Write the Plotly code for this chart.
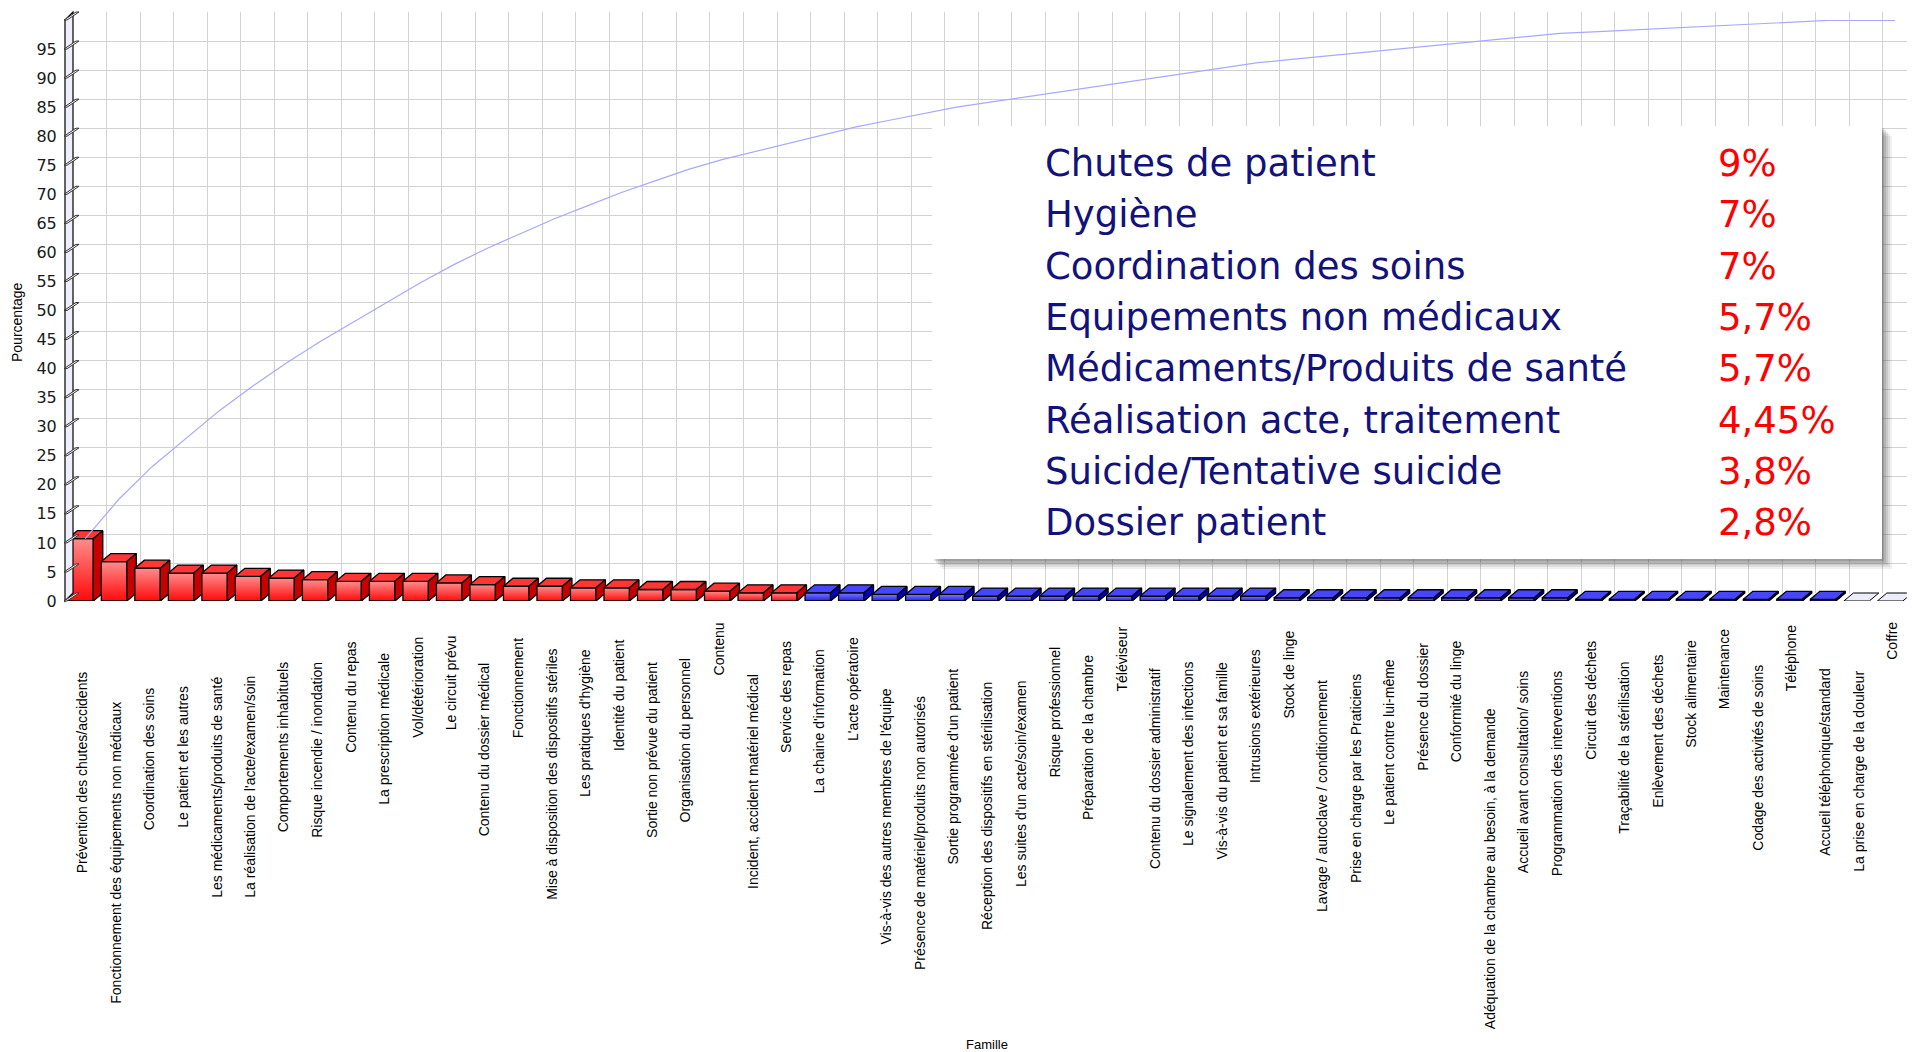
import numpy as np
import plotly.graph_objects as go

# ---------------- DATA ----------------
categories = [
    "Prévention des chutes/accidents",
    "Fonctionnement des équipements non médicaux",
    "Coordination des soins",
    "Le patient et les autres",
    "Les médicaments/produits de santé",
    "La réalisation de l'acte/examen/soin",
    "Comportements inhabituels",
    "Risque incendie / inondation",
    "Contenu du repas",
    "La prescription médicale",
    "Vol/détérioration",
    "Le circuit prévu",
    "Contenu du dossier médical",
    "Fonctionnement",
    "Mise à disposition des dispositifs stériles",
    "Les pratiques d'hygiène",
    "Identité du patient",
    "Sortie non prévue du patient",
    "Organisation du personnel",
    "Contenu",
    "Incident, accident matériel médical",
    "Service des repas",
    "La chaine d'information",
    "L'acte opératoire",
    "Vis-à-vis des autres membres de l'équipe",
    "Présence de matériel/produits non autorisés",
    "Sortie programmée d'un patient",
    "Réception des dispositifs en stérilisation",
    "Les suites d'un acte/soin/examen",
    "Risque professionnel",
    "Préparation de la chambre",
    "Téléviseur",
    "Contenu du dossier administratif",
    "Le signalement des infections",
    "Vis-à-vis du patient et sa famille",
    "Intrusions extérieures",
    "Stock de linge",
    "Lavage / autoclave / conditionnement",
    "Prise en charge par les Praticiens",
    "Le patient contre lui-même",
    "Présence du dossier",
    "Conformité du linge",
    "Adéquation de la chambre au besoin, à la demande",
    "Accueil avant consultation/ soins",
    "Programmation des interventions",
    "Circuit des déchets",
    "Traçabilité de la stérilisation",
    "Enlèvement des déchets",
    "Stock alimentaire",
    "Maintenance",
    "Codage des activités de soins",
    "Téléphone",
    "Accueil téléphonique/standard",
    "La prise en charge de la douleur",
    "Coffre",
]

# percentage per family
values = [
    10.73, 6.78, 5.65, 4.80, 4.80, 4.24, 3.95, 3.67, 3.39, 3.39,
    3.39, 3.11, 2.82, 2.54, 2.54, 2.26, 2.26, 1.98, 1.98, 1.69,
    1.41, 1.41, 1.41, 1.41, 1.13, 1.13, 1.13, 0.85, 0.85, 0.85,
    0.85, 0.85, 0.85, 0.85, 0.85, 0.85, 0.56, 0.56, 0.56, 0.56,
    0.56, 0.56, 0.56, 0.56, 0.56, 0.28, 0.28, 0.28, 0.28, 0.28,
    0.28, 0.28, 0.28, 0.00, 0.00,
]

# colour class of each bar
classes = ["rouge"] * 22 + ["bleu"] * 31 + ["vide"] * 2

y_ticks = list(range(0, 100, 5))

box_labels = [
    "Chutes de patient",
    "Hygiène",
    "Coordination des soins",
    "Equipements non médicaux",
    "Médicaments/Produits de santé",
    "Réalisation acte, traitement",
    "Suicide/Tentative suicide",
    "Dossier patient",
]
box_values = ["9%", "7%", "7%", "5,7%", "5,7%", "4,45%", "3,8%", "2,8%"]

# ---------------- STYLE / GEOMETRY ----------------
W, H = 1915, 1052
OFF = 8            # page body margin of the html page
X0 = 63.8          # px of x = -0.5 (front plane)
CAT = 33.51        # px per category
Y0 = 601.0         # px of y = 0 (front plane)
YT = 20.0          # px of y = 100 (front plane)
PXU = (Y0 - YT) / 100.0
DXP, DYP = 9.5, 8.0  # 3D depth in px
BAR_W = 0.76

dx = DXP / CAT
dy = DYP / PXU
N = len(categories)

# label top position below the floor (px) - staggered like the original
label_top = [
    669, 700, 686, 684, 675, 674, 660, 660, 640, 651,
    635, 633, 660, 635, 647, 647, 638, 660, 656, 620,
    672, 639, 647, 635, 686, 694, 666, 680, 678, 645,
    653, 625, 666, 660, 660, 647, 629, 678, 672, 657,
    641, 638, 706, 669, 669, 639, 660, 653, 638, 627,
    663, 623, 666, 669, 620,
]

def fx(px):
    return (px - OFF) / W

def fy(py):
    return 1 - (py - OFF) / H

palette = {
    "rouge": dict(top="#ff3636", side="#c80000", grad=[[0, "#ff0a0a"], [1, "#ff8c8c"]]),
    "bleu": dict(top="#4646ff", side="#0000c0", grad=[[0, "#2020e8"], [1, "#7a7aff"]]),
}

fig = go.Figure()

# back-wall grid subplot (x / y)
x_back_right = -0.5 + (W + OFF - X0 - DXP) / CAT
fig.add_trace(go.Scatter(x=[None], y=[None], xaxis="x", yaxis="y", showlegend=False, hoverinfo="skip"))

# floor tiles for every category (lavender)
xs, ys = [], []
for i in range(N):
    l, r = i - BAR_W / 2, i + BAR_W / 2
    xs += [l, r, r + dx, l + dx, l, None]
    ys += [0, 0, dy, dy, 0, None]
fig.add_trace(go.Scatter(x=xs, y=ys, xaxis="x2", yaxis="y2", mode="lines", fill="toself",
                         fillcolor="#ececfb", line=dict(color="#000000", width=1),
                         showlegend=False, hoverinfo="skip"))

# 3D bars
for i, (v, c) in enumerate(zip(values, classes)):
    if c not in palette or v <= 0:
        continue
    p = palette[c]
    l, r = i - BAR_W / 2, i + BAR_W / 2
    fig.add_trace(go.Scatter(x=[l, r, r, l, l], y=[0, 0, v, v, 0], xaxis="x2", yaxis="y2",
                             mode="lines", fill="toself",
                             fillgradient=dict(type="vertical", colorscale=p["grad"]),
                             line=dict(color="#000000", width=1.3),
                             showlegend=False, hoverinfo="skip"))
    fig.add_trace(go.Scatter(x=[l, r, r + dx, l + dx, l], y=[v, v, v + dy, v + dy, v],
                             xaxis="x2", yaxis="y2", mode="lines", fill="toself",
                             fillcolor=p["top"], line=dict(color="#000000", width=1.3),
                             showlegend=False, hoverinfo="skip"))
    fig.add_trace(go.Scatter(x=[r, r + dx, r + dx, r, r], y=[0, dy, v + dy, v, 0],
                             xaxis="x2", yaxis="y2", mode="lines", fill="toself",
                             fillcolor=p["side"], line=dict(color="#000000", width=1.3),
                             showlegend=False, hoverinfo="skip"))

# cumulative (Pareto) line
cum = np.cumsum(values)
fig.add_trace(go.Scatter(x=np.arange(N) + dx / 2, y=cum, xaxis="x2", yaxis="y2",
                         mode="lines", line=dict(color="#a8a8ff", width=1.2),
                         cliponaxis=False, showlegend=False, hoverinfo="skip"))

# ---------------- LAYOUT ----------------
fig.update_layout(
    width=W, height=H,
    margin=dict(l=0, r=0, t=0, b=0, autoexpand=False),
    paper_bgcolor="white",
    plot_bgcolor="rgba(0,0,0,0)",
    showlegend=False,
    xaxis=dict(domain=[fx(X0 + DXP), 1.0], range=[-0.5, x_back_right], anchor="y",
               showgrid=True, gridcolor="#d2d2d2", gridwidth=1.2, tick0=-0.5, dtick=1,
               showticklabels=False, zeroline=False, ticks=""),
    yaxis=dict(domain=[fy(Y0 - DYP), fy(YT - DYP)], range=[0, 100], anchor="x",
               showgrid=True, gridcolor="#d2d2d2", gridwidth=1.2, dtick=5,
               showticklabels=False, zeroline=False, ticks=""),
    xaxis2=dict(domain=[fx(X0), fx(X0 + N * CAT)], range=[-0.5, N - 0.5], anchor="y2",
                showgrid=False, showticklabels=False, zeroline=False, ticks=""),
    yaxis2=dict(domain=[fy(Y0), fy(YT)], range=[0, 100], anchor="x2",
                showgrid=False, zeroline=False, tickvals=y_ticks,
                ticks="", ticklabelstandoff=6,
                tickfont=dict(family="DejaVu Sans", size=16, color="#1a1a1a")),
)

shapes = []
# y-axis wall (3D)
wall = [(65, Y0), (65, YT), (65 + 8, YT - DYP), (65 + 8, Y0 - DYP)]
path = "M " + " L ".join(f"{fx(a)},{fy(b)}" for a, b in wall) + " Z"
shapes.append(dict(type="path", xref="paper", yref="paper", path=path,
                   fillcolor="#eeeefc", line=dict(color="#000000", width=1.2), layer="above"))
# wall tick plates
for v in list(range(0, 105, 5)):
    yp = Y0 - v * PXU
    pts = [(64, yp), (67, yp), (79, yp - 8), (76, yp - 8)]
    path = "M " + " L ".join(f"{fx(a)},{fy(b)}" for a, b in pts) + " Z"
    shapes.append(dict(type="path", xref="paper", yref="paper", path=path,
                       fillcolor="#ffffff", line=dict(color="#333333", width=1), layer="above"))

# summary box with soft shadow
bx0, by0, bx1, by1 = 932, 126, 1882, 559
for k, op in enumerate([0.08, 0.10, 0.12, 0.15, 0.18]):
    off = 10 - 2 * k
    shapes.append(dict(type="rect", xref="paper", yref="paper",
                       x0=fx(bx0 + off), x1=fx(bx1 + off), y0=fy(by1 + off), y1=fy(by0 + off),
                       fillcolor=f"rgba(60,60,60,{op})", line=dict(width=0), layer="above"))
shapes.append(dict(type="rect", xref="paper", yref="paper",
                   x0=fx(bx0), x1=fx(bx1), y0=fy(by1), y1=fy(by0),
                   fillcolor="#ffffff", line=dict(width=0), layer="above"))
fig.update_layout(shapes=shapes)

ann = []
lab_font = dict(family="Liberation Sans, Arial", size=14, color="#000000")
# category labels (rotated)
for i, name in enumerate(categories):
    ann.append(dict(x=i + 0.05, y=fy(label_top[i]), xref="x2", yref="paper",
                    text=name, textangle=-90, showarrow=False,
                    xanchor="center", yanchor="top", font=lab_font))

# axis titles
ann.append(dict(x=fx(17), y=fy(322), xref="paper", yref="paper", text="Pourcentage", textangle=-90,
                showarrow=False, xanchor="center", yanchor="middle",
                font=dict(family="Liberation Sans, Arial", size=14, color="#000000")))
ann.append(dict(x=fx(987), y=fy(1044), xref="paper", yref="paper", text="Famille",
                showarrow=False, xanchor="center", yanchor="middle",
                font=dict(family="Liberation Sans, Arial", size=13, color="#000000")))

# summary box text
line_y0, line_step = 163.5, 51.3
for k, (lab, val) in enumerate(zip(box_labels, box_values)):
    yc = line_y0 + k * line_step
    ann.append(dict(x=fx(1043), y=fy(yc), xref="paper", yref="paper", text=lab,
                    showarrow=False, xanchor="left", yanchor="middle",
                    font=dict(family="DejaVu Sans", size=37, color="#12127a")))
    ann.append(dict(x=fx(1716), y=fy(yc), xref="paper", yref="paper", text=val,
                    showarrow=False, xanchor="left", yanchor="middle",
                    font=dict(family="DejaVu Sans", size=37, color="#ff0000")))
fig.update_layout(annotations=ann)

fig.write_html("out.html")
